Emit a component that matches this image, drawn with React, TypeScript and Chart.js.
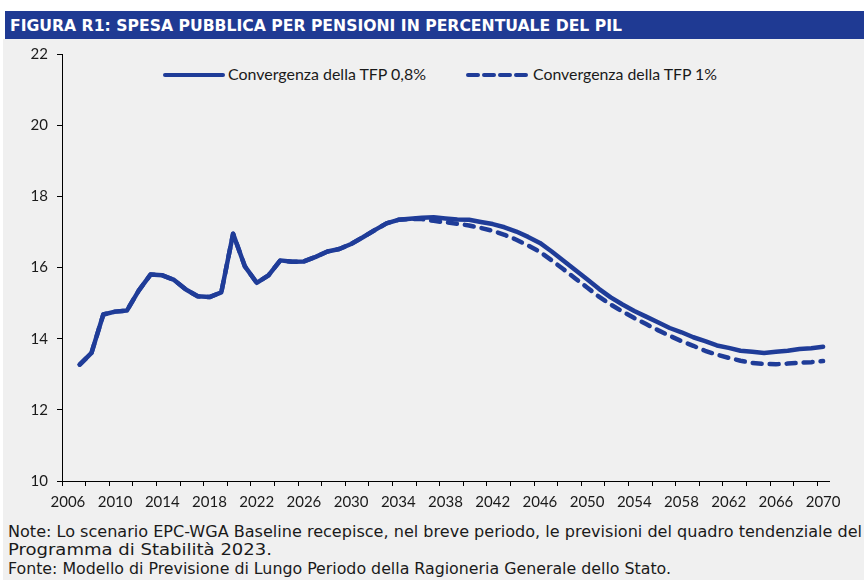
import React, { useEffect, useRef } from 'react';
import { Chart, registerables } from 'chart.js';

Chart.register(...registerables);

// ---- Data ----
const YEARS: string[] = Array.from({ length: 65 }, (_, i) => String(2006 + i));

// Convergenza della TFP 0,8% (2006 .. 2070)
const TFP_08: (number | null)[] = [
  null,
  13.27, 13.6, 14.68, 14.76, 14.79, 15.35, 15.8, 15.78, 15.65, 15.38,
  15.19, 15.17, 15.3, 16.95, 16.03, 15.57, 15.78, 16.2, 16.16, 16.17,
  16.3, 16.45, 16.52, 16.66, 16.85, 17.05, 17.24, 17.34, 17.37, 17.4,
  17.41, 17.38, 17.35, 17.34, 17.28, 17.22, 17.13, 17.01, 16.86, 16.69,
  16.45, 16.19, 15.93, 15.67, 15.4, 15.16, 14.96, 14.78, 14.62, 14.46,
  14.3, 14.18, 14.04, 13.93, 13.81, 13.74, 13.66, 13.63, 13.6, 13.63,
  13.66, 13.71, 13.73, 13.77,
];

// Convergenza della TFP 1% (2006 .. 2070)
const TFP_1: (number | null)[] = [
  null,
  13.27, 13.6, 14.68, 14.76, 14.79, 15.35, 15.8, 15.78, 15.65, 15.38,
  15.19, 15.17, 15.3, 16.95, 16.03, 15.57, 15.78, 16.2, 16.16, 16.17,
  16.3, 16.45, 16.52, 16.66, 16.85, 17.05, 17.24, 17.34, 17.36, 17.36,
  17.31, 17.27, 17.23, 17.18, 17.11, 17.03, 16.92, 16.78, 16.62, 16.44,
  16.2, 15.95, 15.69, 15.44, 15.18, 14.96, 14.76, 14.58, 14.41, 14.24,
  14.08, 13.93, 13.8, 13.66, 13.55, 13.46, 13.38, 13.32, 13.29, 13.28,
  13.3, 13.32, 13.34, 13.37,
];

const Y_MIN = 10;
const Y_MAX = 22;
const Y_STEP = 2;

const TITLE = 'FIGURA R1: SPESA PUBBLICA PER PENSIONI IN PERCENTUALE DEL PIL';
const SERIES_LABELS = ['Convergenza della TFP 0,8%', 'Convergenza della TFP 1%'];
const NOTES = [
  'Note: Lo scenario EPC-WGA Baseline recepisce, nel breve periodo, le previsioni del quadro tendenziale del',
  'Programma di Stabilità 2023.',
  'Fonte: Modello di Previsione di Lungo Periodo della Ragioneria Generale dello Stato.',
];

// ---- Styles ----
const BLUE = '#1f3c98';
const BAR = '#1f3a93';
const BG = '#f0f0f0';
const TEXT = '#1a1a1a';
const TICK_FONT = { family: 'Lato', size: 15 };
const NARROW = "'Liberation Sans Narrow', 'DejaVu Sans Condensed', 'Liberation Sans', sans-serif";

export default function App() {
  const canvasRef = useRef<HTMLCanvasElement>(null);

  useEffect(() => {
    const canvas = canvasRef.current;
    if (!canvas) return;
    const chart = new Chart(canvas, {
      type: 'line',
      data: {
        labels: YEARS,
        datasets: [
          {
            label: SERIES_LABELS[0],
            data: TFP_08,
            borderColor: BLUE,
            backgroundColor: BLUE,
            borderWidth: 4.5,
            pointRadius: 0,
            tension: 0,
            borderCapStyle: 'round',
            borderJoinStyle: 'round',
            fill: false,
          },
          {
            label: SERIES_LABELS[1],
            data: TFP_1,
            borderColor: BLUE,
            backgroundColor: BLUE,
            borderWidth: 4.5,
            borderDash: [9, 8],
            pointRadius: 0,
            tension: 0,
            borderCapStyle: 'round',
            borderJoinStyle: 'round',
            fill: false,
          },
        ],
      },
      options: {
        responsive: false,
        animation: false,
        devicePixelRatio: 1,
        layout: { padding: { left: 0, top: 54, right: 35, bottom: 70 } },
        plugins: {
          legend: { display: false },
          title: { display: false },
          tooltip: { enabled: false },
        },
        scales: {
          x: {
            type: 'category',
            offset: true,
            grid: {
              offset: true,
              drawOnChartArea: false,
              drawTicks: true,
              tickLength: 5,
              tickWidth: 1,
              tickColor: (c: any) =>
                c.index !== undefined && c.index % 2 === 0 ? '#000' : 'rgba(0,0,0,0)',
            },
            border: { display: true, color: '#000', width: 1 },
            ticks: {
              autoSkip: false,
              maxRotation: 0,
              minRotation: 0,
              padding: 7,
              color: TEXT,
              font: TICK_FONT,
              callback: function (this: any, v: any, i: number) {
                return i % 4 === 0 ? this.getLabelForValue(v) : '';
              },
            },
            afterFit: (s: any) => {
              s.height = 29;
              s.paddingLeft = 0;
              s.paddingRight = 0;
            },
          },
          y: {
            min: Y_MIN,
            max: Y_MAX,
            grid: {
              drawOnChartArea: false,
              drawTicks: true,
              tickLength: 5,
              tickWidth: 1,
              tickColor: '#000',
            },
            border: { display: true, color: '#000', width: 1 },
            ticks: {
              stepSize: Y_STEP,
              padding: 9,
              color: TEXT,
              font: TICK_FONT,
            },
            afterFit: (s: any) => {
              s.width = 62;
              s.paddingTop = 0;
              s.paddingBottom = 0;
            },
          },
        },
      },
    });
    return () => chart.destroy();
  }, []);

  return (
    <div style={{ position: 'absolute', left: 0, top: 0, width: 864, height: 580, background: '#fff', overflow: 'hidden' }}>
      <svg width={864} height={580} style={{ position: 'absolute', left: 0, top: 0 }}>
        <rect x={3} y={39} width={861} height={541} fill={BG} />
        <rect x={5} y={11} width={859} height={28} fill={BAR} />
        <text
          x={10}
          y={31}
          fill="#fff"
          fontFamily={NARROW}
          fontWeight="bold"
          fontSize={16.5}
          textLength={612}
          lengthAdjust="spacingAndGlyphs"
        >
          {TITLE}
        </text>

        {/* legend */}
        <line x1={165} y1={75} x2={223} y2={75} stroke={BLUE} strokeWidth={4} strokeLinecap="round" />
        <text x={228} y={80} fill={TEXT} fontFamily="Lato, sans-serif" fontSize={16} textLength={198} lengthAdjust="spacingAndGlyphs">
          {SERIES_LABELS[0]}
        </text>
        <line x1={468} y1={75} x2={528} y2={75} stroke={BLUE} strokeWidth={4} strokeLinecap="round" strokeDasharray="10 6" />
        <text x={533} y={80} fill={TEXT} fontFamily="Lato, sans-serif" fontSize={16} textLength={184} lengthAdjust="spacingAndGlyphs">
          {SERIES_LABELS[1]}
        </text>

        {/* notes */}
        <text x={8} y={537} fill={TEXT} fontFamily={NARROW} fontSize={16.5} textLength={854} lengthAdjust="spacingAndGlyphs">
          {NOTES[0]}
        </text>
        <text x={8} y={555} fill={TEXT} fontFamily={NARROW} fontSize={16.5} textLength={264} lengthAdjust="spacingAndGlyphs">
          {NOTES[1]}
        </text>
        <text x={8} y={574} fill={TEXT} fontFamily={NARROW} fontSize={16.5} textLength={663} lengthAdjust="spacingAndGlyphs">
          {NOTES[2]}
        </text>
      </svg>
      <canvas
        ref={canvasRef}
        width={864}
        height={580}
        style={{ position: 'absolute', left: 0, top: 0, width: 864, height: 580 }}
      />
    </div>
  );
}
